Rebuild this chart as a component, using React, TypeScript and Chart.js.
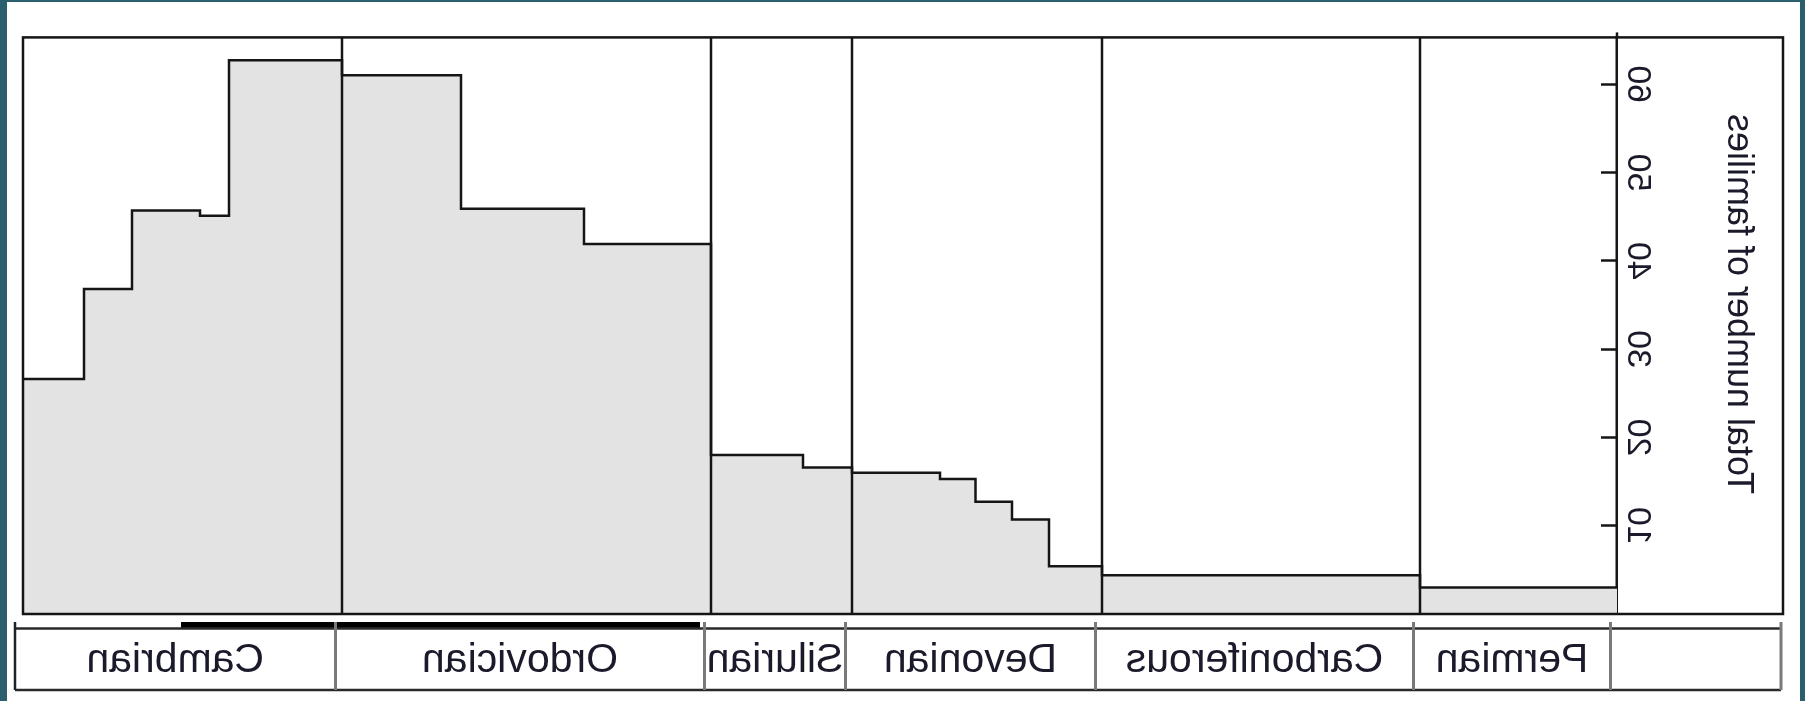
import React, { useEffect, useRef } from "react";
import { Chart, registerables } from "chart.js";
Chart.register(...registerables);

// ---- data (ages in Ma, young -> old) ----
const stepStartAges = [250, 289.4, 353, 363.6, 371, 378.3, 385.4, 403, 412.8, 431.2, 456.6, 481.2, 505, 527.6, 533.4, 547, 556.6];
const stepEndAge = 568.8;
const familyCounts = [3.0, 4.4, 5.4, 10.7, 12.7, 15.3, 16.0, 16.6, 18.0, 41.9, 45.9, 61.0, 62.7, 45.1, 45.7, 36.8, 26.6];
const periodBoundaries = [289.4, 353, 403, 431.2, 505];
const periodNames = ["", "Permian", "Carboniferous", "Devonian", "Silurian", "Ordovician", "Cambrian"];
const timescaleEdges = [215.9, 250, 289.4, 353, 403, 431.2, 505, 569.1];
const timescaleBar = [432.1, 535.9];
const yTicks = [10, 20, 30, 40, 50, 60];
const yMax = 65.3;
const xMin = 250;
const xMax = 568.8;
const yTitle = "Total number of families";

const FONT = "'Liberation Sans', Arial, Helvetica, sans-serif";
const INK = "#151515";

const framePlugin = {
  id: "frameAndTimescale",
  afterDraw(chart: any) {
    const ctx = chart.ctx;
    const ca = chart.chartArea;
    const ys = chart.scales.y;
    const xt = chart.scales.xt;
    ctx.save();
    // plot box
    ctx.strokeStyle = INK;
    ctx.lineWidth = 2.5;
    ctx.strokeRect(ys.left, ca.top, ca.right - ys.left, ca.bottom - ca.top);
    // axis line pokes slightly above the box
    ctx.beginPath();
    ctx.moveTo(ca.left, ca.top - 5);
    ctx.lineTo(ca.left, ca.top);
    ctx.stroke();

    // y axis title (rotated, centred like R's mtext)
    ctx.save();
    ctx.translate(ys.left + 45, 304);
    ctx.rotate(-Math.PI / 2);
    ctx.fillStyle = "#1a1a2a";
    ctx.font = `36px ${FONT}`;
    ctx.textAlign = "center";
    ctx.textBaseline = "middle";
    ctx.fillText(yTitle, 0, 0);
    ctx.restore();

    // timescale
    const top = 622, mid = 628.5, bot = 690;
    const px = (v: number) => xt.getPixelForValue(v);
    ctx.fillStyle = "#000";
    const b0 = px(timescaleBar[0]), b1 = px(timescaleBar[1]);
    ctx.fillRect(Math.min(b0, b1), top, Math.abs(b1 - b0), mid - top);
    ctx.fillStyle = "#fff";
    const left = px(timescaleEdges[0]);
    const right = px(timescaleEdges[timescaleEdges.length - 1]);
    ctx.fillRect(left, mid, right - left, bot - mid);
    ctx.strokeStyle = "#2a2a2a";
    ctx.lineWidth = 2.5;
    ctx.beginPath();
    ctx.moveTo(left, mid); ctx.lineTo(right, mid);
    ctx.moveTo(left, bot); ctx.lineTo(right, bot);
    ctx.stroke();
    // dividers
    for (let i = 0; i < timescaleEdges.length; i++) {
      const x = px(timescaleEdges[i]);
      const last = i === timescaleEdges.length - 1;
      ctx.strokeStyle = last ? "#222" : "#7a7a7a";
      ctx.lineWidth = last ? 2.5 : 3;
      ctx.beginPath();
      ctx.moveTo(x, top);
      ctx.lineTo(x, bot);
      ctx.stroke();
    }
    // labels
    ctx.fillStyle = "#1a1a2a";
    ctx.font = `41px ${FONT}`;
    ctx.textAlign = "center";
    ctx.textBaseline = "alphabetic";
    for (let i = 0; i < periodNames.length; i++) {
      if (!periodNames[i]) continue;
      const c = (px(timescaleEdges[i]) + px(timescaleEdges[i + 1])) / 2;
      ctx.fillText(periodNames[i], c, 672);
    }
    ctx.restore();
  },
};

export default function App() {
  const ref = useRef<HTMLCanvasElement | null>(null);
  useEffect(() => {
    if (!ref.current) return;
    Chart.defaults.font.family = FONT;
    const stepData = stepStartAges.map((a, i) => ({ x: a, y: familyCounts[i] }));
    stepData.push({ x: stepEndAge, y: familyCounts[familyCounts.length - 1] });
    const boundaryDatasets = periodBoundaries.map((b) => ({
      type: "line" as const,
      data: [{ x: b, y: 0 }, { x: b, y: yMax }],
      borderColor: INK,
      borderWidth: 2.5,
      pointRadius: 0,
      fill: false,
      order: 1,
      xAxisID: "x",
      yAxisID: "y",
    }));
    const chart = new Chart(ref.current, {
      type: "line",
      data: {
        datasets: [
          {
            data: stepData,
            stepped: "before",
            fill: "origin",
            backgroundColor: "#e3e3e3",
            borderColor: INK,
            borderWidth: 2.5,
            pointRadius: 0,
            order: 2,
            xAxisID: "x",
            yAxisID: "y",
          } as any,
          ...boundaryDatasets,
        ],
      },
      options: {
        animation: false,
        responsive: true,
        maintainAspectRatio: false,
        events: [],
        layout: { padding: { left: 22, right: 23, top: 34, bottom: 87 } },
        plugins: { legend: { display: false }, tooltip: { enabled: false } },
        scales: {
          x: { type: "linear", display: false, min: xMin, max: xMax },
          xt: { type: "linear", display: false, min: 248.7, max: 567.5, position: "bottom" },
          y: {
            type: "linear",
            position: "left",
            min: 0,
            max: yMax,
            afterBuildTicks: (s: any) => {
              s.ticks = yTicks.map((v) => ({ value: v }));
            },
            afterFit: (s: any) => {
              s.width = 166;
            },
            grid: {
              drawOnChartArea: false,
              drawTicks: true,
              tickLength: -16,
              tickWidth: 2.5,
              tickColor: INK,
            },
            border: { display: true, color: INK, width: 2.5 },
            ticks: {
              minRotation: 90,
              maxRotation: 90,
              crossAlign: "center",
              padding: 17,
              color: "#1a1a2a",
              font: { size: 34, family: FONT },
            },
            title: { display: false },
          } as any,
        },
      } as any,
      plugins: [framePlugin],
    });
    return () => chart.destroy();
  }, []);

  return (
    <div style={{ position: "fixed", left: 0, top: 0, width: 1805, height: 701, background: "#2c5f6e" }}>
      <div style={{ position: "absolute", left: 7, top: 2, width: 1793, height: 699, background: "#fff" }} />
      <div style={{ position: "absolute", left: 0, top: 0, width: 1805, height: 701, transform: "scaleX(-1)" }}>
        <canvas ref={ref} />
      </div>
    </div>
  );
}
